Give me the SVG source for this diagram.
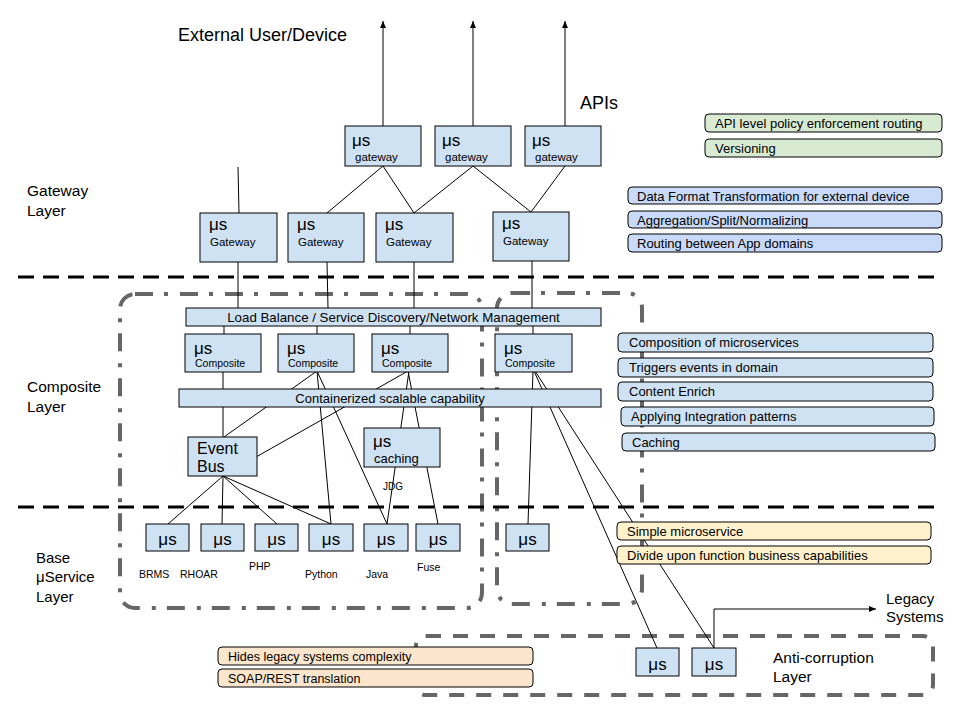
<svg xmlns="http://www.w3.org/2000/svg" width="960" height="720" viewBox="0 0 960 720">
<defs>
<marker id="arr" markerWidth="8" markerHeight="8" refX="7" refY="4" orient="auto" markerUnits="userSpaceOnUse">
<path d="M0,1 L7,4 L0,7 Z" fill="#000"/>
</marker>
<style>
text{font-family:"Liberation Sans",Arial,sans-serif;fill:#000}
.n{fill:#cfe2f3;stroke:#000;stroke-width:1}
.mu{font-size:17px}
.eb{font-size:16px}
.sub{font-size:11.5px}
.csub{font-size:10.5px}
.lay{font-size:15.5px}
.bl{font-size:10.5px}
.lbl{font-size:13px}
.ln{stroke:#000;stroke-width:1;fill:none}
.sep{stroke:#000;stroke-width:3;stroke-dasharray:16 9;fill:none}
.dd{stroke:#666;stroke-width:4;stroke-dasharray:18 11 4 12;fill:none}
.ac{stroke:#666;stroke-width:4;stroke-dasharray:15 12;fill:none}
.g{fill:#d9ead3;stroke:#000;stroke-width:1}
.b{fill:#c9daf8;stroke:#000;stroke-width:1}
.c{fill:#cfe2f3;stroke:#000;stroke-width:1}
.y{fill:#fff2cc;stroke:#000;stroke-width:1}
.o{fill:#fce5cd;stroke:#000;stroke-width:1}
</style>
</defs>

<g id="regions">
<rect class="dd" x="120" y="294" width="362" height="314" rx="15"/>
<rect class="dd" x="497" y="293" width="145" height="311" rx="15"/>
<rect class="ac" x="416" y="636" width="517" height="59" rx="10"/>
</g>

<g id="connectors">
<line class="ln" x1="383" y1="126" x2="383" y2="21" marker-end="url(#arr)"/>
<line class="ln" x1="473" y1="126" x2="473" y2="21" marker-end="url(#arr)"/>
<line class="ln" x1="565" y1="126" x2="565" y2="21" marker-end="url(#arr)"/>
<line class="ln" x1="238" y1="167" x2="239" y2="213"/>
<line class="ln" x1="383" y1="166" x2="327" y2="213"/>
<line class="ln" x1="383" y1="166" x2="414" y2="213"/>
<line class="ln" x1="473" y1="166" x2="414" y2="213"/>
<line class="ln" x1="473" y1="166" x2="531" y2="212"/>
<line class="ln" x1="565" y1="166" x2="531" y2="212"/>
<line class="ln" x1="238" y1="262" x2="238" y2="308"/>
<line class="ln" x1="327" y1="262" x2="328" y2="308"/>
<line class="ln" x1="414" y1="262" x2="414" y2="308"/>
<line class="ln" x1="532" y1="261" x2="532" y2="308"/>
<line class="ln" x1="224" y1="326" x2="224" y2="334"/>
<line class="ln" x1="317" y1="326" x2="317" y2="334"/>
<line class="ln" x1="410" y1="326" x2="410" y2="334"/>
<line class="ln" x1="533" y1="326" x2="533" y2="334"/>
<line class="ln" x1="223" y1="372" x2="223" y2="437"/>
<line class="ln" x1="317" y1="371" x2="224" y2="437"/>
<line class="ln" x1="317" y1="371" x2="331" y2="524"/>
<line class="ln" x1="317" y1="371" x2="387" y2="524"/>
<line class="ln" x1="408" y1="371" x2="256" y2="457"/>
<line class="ln" x1="409" y1="371" x2="387" y2="524"/>
<line class="ln" x1="408" y1="371" x2="438" y2="524"/>
<line class="ln" x1="533" y1="371" x2="528" y2="524"/>
<line class="ln" x1="534" y1="371" x2="657" y2="648"/>
<line class="ln" x1="535" y1="371" x2="714" y2="648"/>
<line class="ln" x1="223" y1="476" x2="168" y2="524"/>
<line class="ln" x1="223" y1="476" x2="222" y2="524"/>
<line class="ln" x1="223" y1="476" x2="277" y2="524"/>
<line class="ln" x1="223" y1="476" x2="331" y2="524"/>
<path class="ln" d="M714,648 V609 H876" marker-end="url(#arr)"/>
</g>

<g id="separators">
<line class="sep" x1="18" y1="277" x2="942" y2="277"/>
<line class="sep" x1="18" y1="507" x2="942" y2="507"/>
</g>

<g id="gw-top-1"><rect class="n" x="345" y="126" width="76" height="40"/><text class="mu" x="352" y="146">μs</text><text class="sub" x="355" y="161">gateway</text></g>
<g id="gw-top-2"><rect class="n" x="435" y="126" width="76" height="40"/><text class="mu" x="442" y="146">μs</text><text class="sub" x="445" y="161">gateway</text></g>
<g id="gw-top-3"><rect class="n" x="525" y="126" width="76" height="40"/><text class="mu" x="532" y="146">μs</text><text class="sub" x="535" y="161">gateway</text></g>

<g id="gw-1"><rect class="n" x="200" y="213" width="77" height="49"/><text class="mu" x="209" y="230">μs</text><text class="sub" x="210" y="246">Gateway</text></g>
<g id="gw-2"><rect class="n" x="288" y="213" width="76" height="49"/><text class="mu" x="297" y="230">μs</text><text class="sub" x="298" y="246">Gateway</text></g>
<g id="gw-3"><rect class="n" x="376" y="213" width="77" height="49"/><text class="mu" x="385" y="230">μs</text><text class="sub" x="386" y="246">Gateway</text></g>
<g id="gw-4"><rect class="n" x="493" y="212" width="76" height="49"/><text class="mu" x="502" y="229">μs</text><text class="sub" x="503" y="245">Gateway</text></g>

<g id="load-balance"><rect class="n" x="186" y="308" width="415" height="18"/><text x="393.5" y="321.5" font-size="13.3" text-anchor="middle">Load Balance / Service Discovery/Network Management</text></g>

<g id="comp-1"><rect class="n" x="185" y="334" width="76" height="38"/><text class="mu" x="194" y="354">μs</text><text class="csub" x="195" y="367">Composite</text></g>
<g id="comp-2"><rect class="n" x="278" y="334" width="76" height="38"/><text class="mu" x="287" y="354">μs</text><text class="csub" x="288" y="367">Composite</text></g>
<g id="comp-3"><rect class="n" x="372" y="334" width="76" height="38"/><text class="mu" x="381" y="354">μs</text><text class="csub" x="382" y="367">Composite</text></g>
<g id="comp-4"><rect class="n" x="495" y="334" width="77" height="38"/><text class="mu" x="504" y="354">μs</text><text class="csub" x="505" y="367">Composite</text></g>

<g id="containerized"><rect class="n" x="179" y="389" width="422" height="18"/><text x="390" y="402.5" font-size="13" text-anchor="middle">Containerized scalable capability</text></g>

<g id="event-bus"><rect class="n" x="188" y="437" width="69" height="39"/><text class="eb" x="197" y="454">Event</text><text class="eb" x="197" y="472">Bus</text></g>

<g id="caching"><rect class="n" x="364" y="428" width="76" height="39"/><text class="mu" x="373" y="447">μs</text><text x="374" y="463" font-size="13">caching</text></g>
<text id="jdg" x="393" y="490" font-size="10" text-anchor="middle">JDG</text>

<g id="base-1"><rect class="n" x="146" y="524" width="43" height="27"/><text class="mu" x="167.5" y="545" text-anchor="middle">μs</text></g>
<g id="base-2"><rect class="n" x="201" y="524" width="43" height="27"/><text class="mu" x="222.5" y="545" text-anchor="middle">μs</text></g>
<g id="base-3"><rect class="n" x="255" y="524" width="43" height="27"/><text class="mu" x="276.5" y="545" text-anchor="middle">μs</text></g>
<g id="base-4"><rect class="n" x="309" y="524" width="44" height="27"/><text class="mu" x="331" y="545" text-anchor="middle">μs</text></g>
<g id="base-5"><rect class="n" x="364" y="524" width="44" height="27"/><text class="mu" x="386" y="545" text-anchor="middle">μs</text></g>
<g id="base-6"><rect class="n" x="416" y="524" width="44" height="27"/><text class="mu" x="438" y="545" text-anchor="middle">μs</text></g>
<g id="base-7"><rect class="n" x="506" y="524" width="43" height="27"/><text class="mu" x="527.5" y="545" text-anchor="middle">μs</text></g>

<g id="base-labels">
<text class="bl" x="139" y="578">BRMS</text>
<text class="bl" x="180" y="578">RHOAR</text>
<text class="bl" x="249" y="570">PHP</text>
<text class="bl" x="305" y="578">Python</text>
<text class="bl" x="366" y="578">Java</text>
<text class="bl" x="417" y="571">Fuse</text>
</g>

<g id="acl-1"><rect class="n" x="636" y="648" width="43" height="28"/><text class="mu" x="657.5" y="670" text-anchor="middle">μs</text></g>
<g id="acl-2"><rect class="n" x="692" y="648" width="44" height="28"/><text class="mu" x="714" y="670" text-anchor="middle">μs</text></g>

<g id="titles">
<text x="178" y="41" font-size="18">External User/Device</text>
<text x="580" y="109" font-size="18">APIs</text>
<text x="886" y="604" font-size="15">Legacy</text>
<text x="886" y="622" font-size="15">Systems</text>
<text x="773" y="663" font-size="15.5">Anti-corruption</text>
<text x="773" y="682" font-size="15.5">Layer</text>
<text class="lay" x="27" y="196">Gateway</text>
<text class="lay" x="27" y="216">Layer</text>
<text class="lay" x="27" y="392">Composite</text>
<text class="lay" x="27" y="412">Layer</text>
<text x="36" y="563" font-size="15">Base</text>
<text x="36" y="582" font-size="15">μService</text>
<text x="36" y="602" font-size="15">Layer</text>
</g>

<g id="gateway-notes">
<rect class="g" x="705" y="114" width="237" height="18" rx="4"/><text class="lbl" x="715" y="128">API level policy enforcement routing</text>
<rect class="g" x="705" y="139" width="237" height="18" rx="4"/><text class="lbl" x="715" y="153">Versioning</text>
<rect class="b" x="628" y="187" width="314" height="17" rx="4"/><text class="lbl" x="637" y="200.5">Data Format Transformation for external device</text>
<rect class="b" x="628" y="211" width="314" height="17" rx="4"/><text class="lbl" x="637" y="224.5">Aggregation/Split/Normalizing</text>
<rect class="b" x="628" y="234" width="314" height="18" rx="4"/><text class="lbl" x="637" y="248">Routing between App domains</text>
</g>

<g id="composite-notes">
<rect class="c" x="618" y="333" width="315" height="19" rx="4"/><text class="lbl" x="629" y="347">Composition of microservices</text>
<rect class="c" x="618" y="358" width="315" height="19" rx="4"/><text class="lbl" x="629" y="372">Triggers events in domain</text>
<rect class="c" x="618" y="382" width="315" height="19" rx="4"/><text class="lbl" x="629" y="396">Content Enrich</text>
<rect class="c" x="621" y="407" width="313" height="19" rx="4"/><text class="lbl" x="631" y="421">Applying Integration patterns</text>
<rect class="c" x="622" y="433" width="313" height="18" rx="4"/><text class="lbl" x="632" y="446.5">Caching</text>
</g>

<g id="base-notes">
<rect class="y" x="617" y="522" width="314" height="18" rx="4"/><text class="lbl" x="627" y="536">Simple microservice</text>
<rect class="y" x="617" y="546" width="314" height="18" rx="4"/><text class="lbl" x="627" y="560">Divide upon function business capabilities</text>
</g>

<g id="acl-notes">
<rect class="o" x="218" y="647" width="315" height="18" rx="4"/><text x="228" y="660.5" font-size="12.5">Hides legacy systems complexity</text>
<rect class="o" x="218" y="669" width="315" height="18" rx="4"/><text x="228" y="682.5" font-size="12.5">SOAP/REST translation</text>
</g>
</svg>
